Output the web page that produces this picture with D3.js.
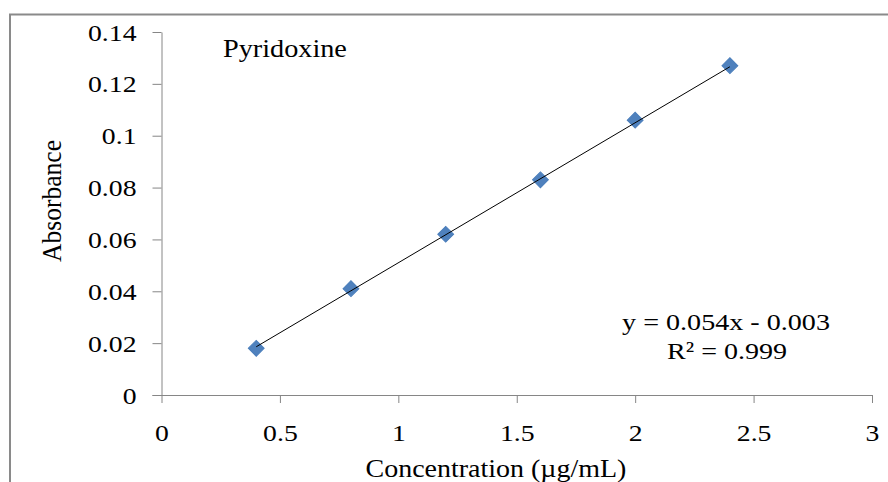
<!DOCTYPE html>
<html>
<head>
<meta charset="utf-8">
<script src="https://cdn.jsdelivr.net/npm/d3@7"></script>
<style>
  html, body { margin: 0; padding: 0; background: #fff; }
  svg { display: block; }
  text { font-family: "Liberation Serif", "Times New Roman", serif; fill: #000; }
</style>
</head>
<body>
<svg id="chart" width="888" height="482"></svg>
<script>
// ---- data ----
const concentration = [0.4, 0.8, 1.2, 1.6, 2.0, 2.4];
const absorbance = [0.018, 0.041, 0.062, 0.083, 0.106, 0.127];
const slope = 0.054;
const intercept = -0.003;
const xTicks = [0, 0.5, 1, 1.5, 2, 2.5, 3];
const xTickLabels = ["0", "0.5", "1", "1.5", "2", "2.5", "3"];
const yTicks = [0, 0.02, 0.04, 0.06, 0.08, 0.1, 0.12, 0.14];
const yTickLabels = ["0", "0.02", "0.04", "0.06", "0.08", "0.1", "0.12", "0.14"];
const titleText = "Pyridoxine";
const xTitle = "Concentration (\u00b5g/mL)";
const yTitle = "Absorbance";
const eqText = "y = 0.054x - 0.003";
const r2Text = "R\u00b2 = 0.999";

// ---- layout ----
const svg = d3.select("#chart");
const plotL = 161.5, plotR = 872, plotT = 32, plotB = 395;
const x = d3.scaleLinear().domain([0, 3]).range([plotL, plotR]);
const y = d3.scaleLinear().domain([0, 0.14]).range([plotB, plotT]);
const axisColor = "#868686";
const sx = 1.18;

// outer frame (chart area border, cropped by image)
svg.append("rect")
  .attr("x", 10).attr("y", 14.5).attr("width", 900).attr("height", 500)
  .attr("fill", "none").attr("stroke", "#8a8a8a").attr("stroke-width", 2);

// helper: horizontal scale so a text fits a target width
function fit(sel, w) {
  const len = sel.node().getComputedTextLength();
  return w / len;
}

// y axis
const yAxis = svg.append("g")
  .attr("transform", `translate(${plotL},0)`)
  .call(d3.axisLeft(y).tickValues(yTicks).tickSize(9).tickSizeOuter(0)
    .tickFormat((d, i) => yTickLabels[i]));
yAxis.attr("font-family", null);
yAxis.select(".domain").attr("stroke", axisColor);
yAxis.selectAll(".tick line").attr("stroke", axisColor);
yAxis.selectAll(".tick text")
  .attr("font-size", 23.5)
  .attr("x", -25 / sx).attr("dy", "0.34em")
  .attr("transform", `scale(${sx},1)`);

// x axis
const xAxis = svg.append("g")
  .attr("transform", `translate(0,${plotB})`)
  .call(d3.axisBottom(x).tickValues(xTicks).tickSize(8).tickSizeOuter(0)
    .tickFormat((d, i) => xTickLabels[i]));
xAxis.attr("font-family", null);
xAxis.select(".domain").attr("stroke", axisColor).attr("d", `M${plotL - 9},0.5H${plotR}`);
xAxis.selectAll(".tick line").attr("stroke", axisColor);
xAxis.selectAll(".tick text")
  .attr("font-size", 23.5)
  .attr("y", 46).attr("dy", 0)
  .attr("transform", `scale(${sx},1)`);

// markers
const sym = d3.symbol().type(d3.symbolSquare).size(125);
svg.append("g").selectAll("path")
  .data(concentration.map((c, i) => [c, absorbance[i]]))
  .join("path")
  .attr("d", sym)
  .attr("transform", d => `translate(${x(d[0])},${y(d[1])}) rotate(45)`)
  .attr("fill", "#4F81BD")
  .attr("stroke", "#4A7EBB")
  .attr("stroke-width", 1);

// trend line
const x0 = d3.min(concentration), x1 = d3.max(concentration);
svg.append("line")
  .attr("x1", x(x0)).attr("y1", y(slope * x0 + intercept))
  .attr("x2", x(x1)).attr("y2", y(slope * x1 + intercept))
  .attr("stroke", "#000").attr("stroke-width", 1);

// title inside plot
const t = svg.append("text").text(titleText).attr("font-size", 25);
t.attr("transform", `translate(223,57) scale(${fit(t, 124)},1)`);

// equation
const e1 = svg.append("text").text(eqText).attr("font-size", 24).attr("text-anchor", "middle");
e1.attr("transform", `translate(726,330) scale(${fit(e1, 208)},1)`);
const e2 = svg.append("text").text(r2Text).attr("font-size", 24).attr("text-anchor", "middle");
e2.attr("transform", `translate(727,359) scale(${fit(e2, 120)},1)`);

// x title
const xt = svg.append("text").text(xTitle).attr("font-size", 26).attr("text-anchor", "middle");
xt.attr("transform", `translate(496,477) scale(${fit(xt, 261)},1)`);

// y title
const yt = svg.append("text").text(yTitle).attr("font-size", 26).attr("text-anchor", "middle");
const ys = fit(yt, 122);
yt.attr("transform", `translate(61,201) rotate(-90) scale(${ys},1.05)`);
</script>
</body>
</html>
